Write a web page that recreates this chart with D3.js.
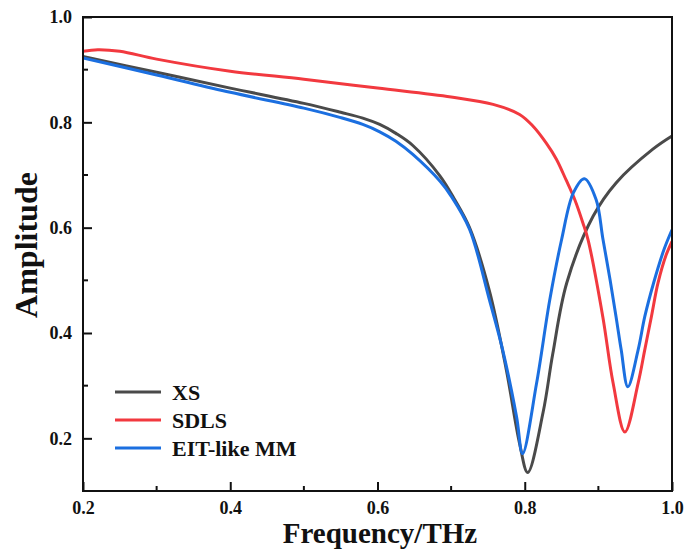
<!DOCTYPE html>
<html>
<head>
<meta charset="utf-8">
<script src="https://cdn.jsdelivr.net/npm/d3@7"></script>
<style>
  body { margin: 0; background: #fff; }
  text { font-family: "Liberation Serif", "Times New Roman", serif; font-weight: bold; fill: #111; }
</style>
</head>
<body>
<svg id="chart"></svg>
<script>
// frequency (THz) / amplitude pairs
const xsFreq = [0.2, 0.3, 0.4, 0.5, 0.55, 0.58, 0.603, 0.625, 0.648, 0.685, 0.705, 0.725, 0.752, 0.775, 0.793, 0.804, 0.825, 0.838, 0.857, 0.893, 0.924, 0.974, 1.0];
const xsAmp  = [0.925, 0.895, 0.865, 0.836, 0.819, 0.808, 0.796, 0.779, 0.756, 0.698, 0.653, 0.60, 0.48, 0.33, 0.19, 0.135, 0.25, 0.36, 0.495, 0.622, 0.685, 0.749, 0.774];

const sdlsFreq = [0.2, 0.22, 0.25, 0.3, 0.4, 0.5, 0.6, 0.7, 0.757, 0.793, 0.811, 0.829, 0.843, 0.856, 0.868, 0.879, 0.886, 0.906, 0.92, 0.936, 0.954, 0.963, 0.972, 0.981, 0.992, 1.0];
const sdlsAmp  = [0.935, 0.938, 0.935, 0.92, 0.897, 0.882, 0.865, 0.848, 0.834, 0.815, 0.793, 0.761, 0.73, 0.691, 0.653, 0.609, 0.577, 0.431, 0.305, 0.212, 0.305, 0.368, 0.431, 0.495, 0.548, 0.574];

const eitFreq = [0.2, 0.3, 0.4, 0.5, 0.55, 0.58, 0.603, 0.625, 0.648, 0.685, 0.7, 0.725, 0.752, 0.77, 0.789, 0.797, 0.816, 0.834, 0.85, 0.866, 0.881, 0.897, 0.906, 0.916, 0.924, 0.931, 0.94, 0.954, 0.963, 0.975, 0.989, 1.0];
const eitAmp  = [0.922, 0.89, 0.857, 0.827, 0.809, 0.796, 0.782, 0.764, 0.739, 0.688, 0.66, 0.597, 0.463, 0.368, 0.24, 0.171, 0.304, 0.463, 0.577, 0.666, 0.693, 0.653, 0.58, 0.50, 0.431, 0.368, 0.298, 0.368, 0.431, 0.495, 0.558, 0.596];

const seriesNames = ["XS", "SDLS", "EIT-like MM"];
const seriesColors = ["#4a4a4a", "#f2393f", "#1b6fe0"];
const xTicks = [0.2, 0.4, 0.6, 0.8, 1.0];
const yTicks = [0.2, 0.4, 0.6, 0.8, 1.0];

const width = 686, height = 549;
const margin = { top: 17, right: 14, bottom: 58, left: 83 };

const svg = d3.select("#chart").attr("width", width).attr("height", height);

const x = d3.scaleLinear().domain([0.2, 1.0]).range([margin.left, width - margin.right]);
const y = d3.scaleLinear().domain([0.1, 1.0]).range([height - margin.bottom, margin.top]);

const series = [
  { name: seriesNames[0], color: seriesColors[0], f: xsFreq, a: xsAmp },
  { name: seriesNames[1], color: seriesColors[1], f: sdlsFreq, a: sdlsAmp },
  { name: seriesNames[2], color: seriesColors[2], f: eitFreq, a: eitAmp }
];

const line = d3.line()
  .x(d => x(d[0]))
  .y(d => y(d[1]))
  .curve(d3.curveCatmullRom.alpha(0.5));

svg.append("defs").append("clipPath").attr("id", "clip")
  .append("rect")
  .attr("x", margin.left).attr("y", margin.top)
  .attr("width", width - margin.left - margin.right)
  .attr("height", height - margin.top - margin.bottom);

svg.append("g").attr("clip-path", "url(#clip)")
  .selectAll("path")
  .data(series)
  .enter().append("path")
  .attr("d", s => line(s.f.map((f, i) => [f, s.a[i]])))
  .attr("fill", "none")
  .attr("stroke", s => s.color)
  .attr("stroke-width", 3);

// axes, ticks pointing inward
const xMinor = [0.3, 0.5, 0.7, 0.9];
const yMinor = [0.3, 0.5, 0.7, 0.9];

const xAxis = svg.append("g")
  .attr("transform", `translate(0,${height - margin.bottom})`)
  .call(d3.axisBottom(x).tickValues(xTicks).tickFormat(d3.format(".1f")).tickSizeInner(-9).tickSizeOuter(0).tickPadding(10));
const yAxis = svg.append("g")
  .attr("transform", `translate(${margin.left},0)`)
  .call(d3.axisLeft(y).tickValues(yTicks).tickFormat(d3.format(".1f")).tickSizeInner(-9).tickSizeOuter(0).tickPadding(11));

svg.append("g")
  .selectAll("line").data(xMinor).enter().append("line")
  .attr("x1", d => x(d)).attr("x2", d => x(d))
  .attr("y1", height - margin.bottom).attr("y2", height - margin.bottom - 5)
  .attr("stroke", "#111").attr("stroke-width", 2);
svg.append("g")
  .selectAll("line").data(yMinor).enter().append("line")
  .attr("y1", d => y(d)).attr("y2", d => y(d))
  .attr("x1", margin.left).attr("x2", margin.left + 5)
  .attr("stroke", "#111").attr("stroke-width", 2);

[xAxis, yAxis].forEach(a => {
  a.select(".domain").remove();
  a.selectAll(".tick line").attr("stroke", "#111").attr("stroke-width", 2);
  a.selectAll(".tick text").style("font-size", "18px").style("font-family", "Liberation Serif").style("font-weight", "bold").attr("fill", "#111");
});

// frame
svg.append("rect")
  .attr("x", margin.left).attr("y", margin.top)
  .attr("width", width - margin.left - margin.right)
  .attr("height", height - margin.top - margin.bottom)
  .attr("fill", "none").attr("stroke", "#111").attr("stroke-width", 2);

// axis titles
svg.append("text")
  .attr("x", 380)
  .attr("y", 542.5)
  .attr("text-anchor", "middle")
  .style("font-size", "29px")
  .text("Frequency/THz");

svg.append("text")
  .attr("transform", `translate(37,245) rotate(-90)`)
  .attr("text-anchor", "middle")
  .style("font-size", "32px")
  .text("Amplitude");

// legend
const legend = svg.append("g").attr("transform", "translate(115,392)");
const item = legend.selectAll("g").data(series).enter().append("g")
  .attr("transform", (d, i) => `translate(0,${i * 28})`);
item.append("line")
  .attr("x1", 0).attr("x2", 46)
  .attr("stroke", d => d.color).attr("stroke-width", 3);
item.append("text")
  .attr("x", 57).attr("dy", "0.35em")
  .style("font-size", "22px")
  .text(d => d.name);
</script>
</body>
</html>
